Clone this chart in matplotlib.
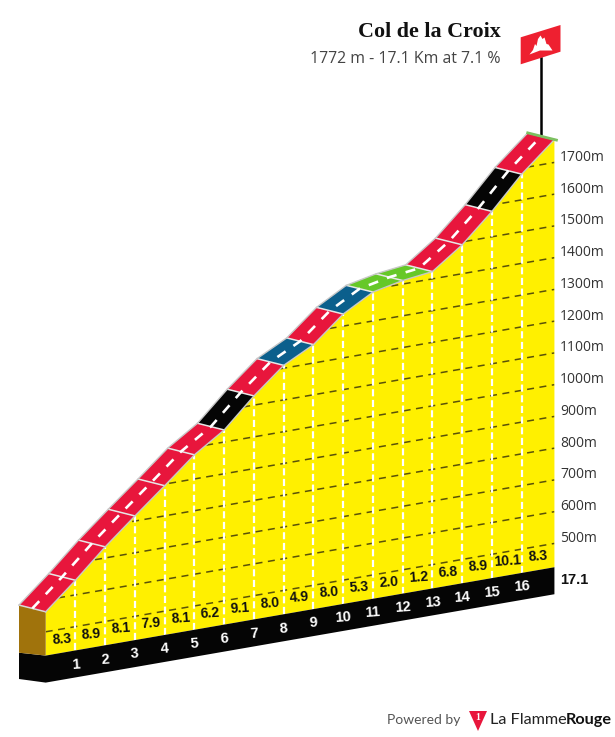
import numpy as np
import matplotlib
matplotlib.use('Agg')
import matplotlib.pyplot as plt
from matplotlib.patches import Polygon

# profile data
km_marks = [0, 1, 2, 3, 4, 5, 6, 7, 8, 9, 10, 11, 12, 13, 14, 15, 16, 17.1]
altitudes = [563, 646, 735, 816, 895, 976, 1038, 1129, 1209, 1258, 1338, 1391, 1411, 1423, 1491, 1580, 1681, 1772]
gradients = [8.3, 8.9, 8.1, 7.9, 8.1, 6.2, 9.1, 8.0, 4.9, 8.0, 5.3, 2.0, 1.2, 6.8, 8.9, 10.1, 8.3]
grid_alts = [500, 600, 700, 800, 900, 1000, 1100, 1200, 1300, 1400, 1500, 1600, 1700]
km_labels = ['1', '2', '3', '4', '5', '6', '7', '8', '9', '10', '11', '12', '13', '14', '15', '16']

title = 'Col de la Croix'
subtitle = '1772 m - 17.1 Km at 7.1 %'

YELLOW = '#FFF000'
RED = '#E8163C'
BLACK = '#050505'
BLUE = '#0B5F8C'
GREEN = '#66C828'
BROWN = '#A0730C'

COND = 'Liberation Sans'


def px(km, alt=425.0):
    # oblique projection, km/altitude to picture pixels
    km = np.asarray(km, dtype=float)
    alt = np.asarray(alt, dtype=float)
    x = 45.7 + 29.75 * km
    y = 655.6 - 0.1737 * (x - 45.7) - 0.3175 * (alt - 425.0)
    return x, y


def road_colour(g):
    if g < 2.5:
        return GREEN
    if g < 6.0:
        return BLUE
    if g > 9.0:
        return BLACK
    return RED


fig = plt.figure(figsize=(6.15, 7.37), dpi=100)
ax = fig.add_axes([0, 0, 1, 1])
ax.set_xlim(0, 615)
ax.set_ylim(737, 0)
ax.axis('off')

fx, fy = px(km_marks, altitudes)
bx, by = px(km_marks)
back_dx, back_dy = -26.7, -6.7

# yellow face
yellow = Polygon(list(zip(fx, fy)) + list(zip(bx[::-1], by[::-1])), closed=True, fc=YELLOW, ec='none', zorder=1)
ax.add_patch(yellow)

# altitude lines
for a in grid_alts:
    x0, y0 = px(km_marks[0], a)
    x1, y1 = px(km_marks[-1], a)
    l, = ax.plot([x0, x1], [y0, y1], color='#5A5208', lw=1.1, dashes=(4.6, 3.6), zorder=2)
    l.set_clip_path(yellow)
    ax.text(560, y1 - 5, '%dm' % a, family='Open Sans', fontsize=10, color='#333333', ha='left', va='center')

# km lines
for k in km_marks[1:-1]:
    x0, y0 = px(k)
    x1, y1 = px(k, 2000)
    l, = ax.plot([x0, x1], [y0, y1], color='white', lw=1.6, dashes=(3.2, 1.6), zorder=3)
    l.set_clip_path(yellow)

# base band and the brown end
band_h = 27.0
ax.add_patch(Polygon([(bx[0], by[0]), (bx[-1], by[-1]), (bx[-1], by[-1] + band_h), (bx[0], by[0] + band_h),
                      (bx[0] - 26.7, by[0] + 23.4), (bx[0] - 26.7, by[0] - 2.9)], closed=True, fc=BLACK, ec='none', zorder=4))
ax.add_patch(Polygon([(fx[0], fy[0]), (bx[0], by[0]), (bx[0] - 26.7, by[0] - 2.9), (fx[0] + back_dx, fy[0] + back_dy)],
                     closed=True, fc=BROWN, ec='none', zorder=4))

# road segments
for i, g in enumerate(gradients):
    pts = [(fx[i], fy[i]), (fx[i + 1], fy[i + 1]),
           (fx[i + 1] + back_dx, fy[i + 1] + back_dy), (fx[i] + back_dx, fy[i] + back_dy)]
    ax.add_patch(Polygon(pts, closed=True, fc=road_colour(g), ec='none', zorder=5))
    ax.plot([fx[i + 1], fx[i + 1] + back_dx], [fy[i + 1], fy[i + 1] + back_dy], color='#E6E6E6', lw=1.1, zorder=6)
ax.plot([fx[0], fx[0] + back_dx], [fy[0], fy[0] + back_dy], color='#D8D8D8', lw=1.1, zorder=6)
ax.plot(fx, fy, color='#C8C8C8', lw=1.0, zorder=6)
ax.plot(fx + back_dx, fy + back_dy, color='#C8C8C8', lw=1.0, zorder=6)
ax.plot(fx + back_dx / 2, fy + back_dy / 2, color='white', lw=1.9, dashes=(3.8, 3.6), zorder=7)

# green strip at the summit
ax.plot([fx[-1] + back_dx, fx[-1] + 2], [fy[-1] + back_dy, fy[-1] + 0.5], color='#7CC060', lw=2.0, zorder=8)

# gradient and km labels
for i, g in enumerate(gradients):
    x, y = px(i + 0.5 if i < 16 else 16.5)
    ax.text(x + 1, y - 14, '%.1f' % g, family=COND, fontsize=10, fontweight='bold', color='#111111',
            ha='center', va='center', rotation=4, zorder=9)
for k, lab in zip(km_marks[1:-1], km_labels):
    x, y = px(k)
    ax.text(x, y + 14, lab, family=COND, fontsize=10.5, fontweight='bold', color='white',
            ha='center', va='center', rotation=4, zorder=9)
ax.text(560, 580, '17.1', family=COND, fontsize=10.5, fontweight='bold', color='#111111', ha='left', va='center')

# title
ax.text(500.5, 32, title, family='Liberation Serif', fontsize=15.8, fontweight='bold', color='#111111', ha='right', va='center')
ax.text(500.5, 59, subtitle, family='Open Sans', fontsize=11.4, color='#444444', ha='right', va='center')

# flag
ax.plot([540.7, 540.7], [58, 134], color='black', lw=1.8, zorder=3)
ax.add_patch(Polygon([(520.7, 64.3), (560.5, 51.7), (560.5, 25), (520.7, 37.3)], closed=True, fc='#EE2030', ec='none', zorder=4))
ax.add_patch(Polygon([(529.5, 54.5), (533, 50), (535, 44), (536.5, 46), (538, 39), (540.5, 35.5), (542.5, 39),
                      (544.5, 37.5), (546.5, 44), (548.5, 44.5), (552.5, 50.5), (540, 50.5)],
                     closed=True, fc='white', ec='none', zorder=5))

# footer
ax.text(387, 720.5, 'Powered by', family='Lato', fontsize=10, color='#555555', ha='left', va='center')
ax.add_patch(Polygon([(469, 711), (487, 711), (478, 731)], closed=True, fc='#E8163C', ec='none'))
ax.text(478, 718, '1', family='Liberation Serif', fontsize=7, fontweight='bold', color='white', ha='center', va='center')
ax.text(490, 720, 'La Flamme', family='Lato', fontsize=11.7, color='#222222', ha='left', va='center')
ax.text(565.5, 720, 'Rouge', family='Lato', fontsize=11.7, fontweight='bold', color='#111111', ha='left', va='center')

fig.savefig('out.png', dpi=100)
